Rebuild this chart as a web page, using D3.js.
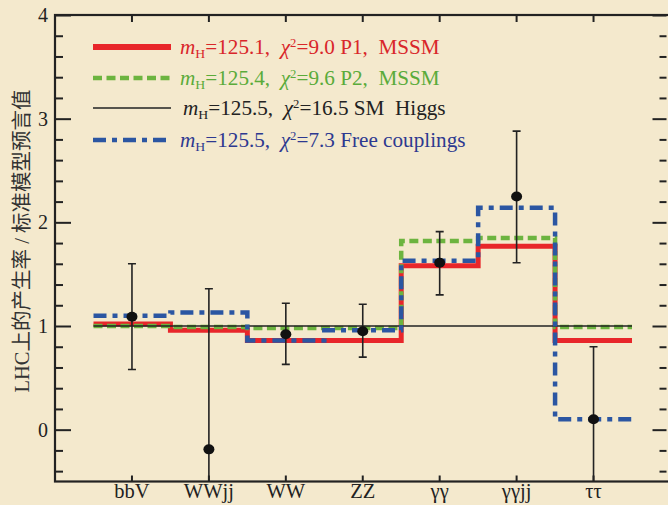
<!DOCTYPE html>
<html>
<head>
<meta charset="utf-8">
<script src="https://cdn.jsdelivr.net/npm/d3@7"></script>
<style>
  html, body { margin: 0; padding: 0; background: #f4e9cd; }
  svg { display: block; }
</style>
</head>
<body>
<div id="chart"></div>
<script>
// channels on the x axis
const channels = ['bbV', 'WWjj', 'WW', 'ZZ', 'γγ', 'γγjj', 'ττ'];

// model predictions per channel (ratio to SM)
const p1Mssm   = [1.02, 0.96, 0.86, 0.86, 1.58, 1.77, 0.86];
const p2Mssm   = [1.00, 0.99, 0.98, 0.98, 1.82, 1.85, 0.99];
const smHiggs  = [1, 1, 1, 1, 1, 1, 1];
const freeCoup = [1.10, 1.13, 0.86, 0.96, 1.63, 2.14, 0.10];

// measured points with error bars
const measured = [1.09, -0.19, 0.92, 0.95, 1.61, 2.25, 0.10];
const errLow   = [0.58, -0.60, 0.63, 0.70, 1.30, 1.61, -0.60];
const errHigh  = [1.60, 1.36, 1.22, 1.21, 1.91, 2.88, 0.80];

const yMajor = [0, 1, 2, 3, 4];
const yMinor = d3.range(-0.4, 4.0, 0.2).map(v => +v.toFixed(1)).filter(v => !yMajor.includes(v));

const width = 668, height = 505;
const plotL = 55, plotR = 666.5, plotT = 15, plotB = 481.5;

const svg = d3.select('#chart').append('svg')
  .attr('width', width)
  .attr('height', height)
  .style('font-family', '"Liberation Serif", "Times New Roman", serif');

svg.append('rect').attr('width', width).attr('height', height).attr('fill', '#f4e9cd');

const x = d3.scaleBand().domain(channels).range([93.5, 632]);
const y = d3.scaleLinear().domain([-0.5, 4]).range([plotB, plotT]);

svg.append('clipPath').attr('id', 'plotclip')
  .append('rect').attr('x', plotL).attr('y', plotT)
  .attr('width', plotR - plotL).attr('height', plotB - plotT);

// axes: ticks point inward
const leftMinor = svg.append('g').attr('transform', `translate(${plotL},0)`)
  .call(d3.axisLeft(y).tickValues(yMinor).tickSize(-8).tickFormat(''));
const leftMajor = svg.append('g').attr('transform', `translate(${plotL},0)`)
  .call(d3.axisLeft(y).tickValues(yMajor).tickSize(-16).tickPadding(7).tickFormat(d3.format('d')));
const rightMinor = svg.append('g').attr('transform', `translate(${plotR},0)`)
  .call(d3.axisRight(y).tickValues(yMinor).tickSize(-7).tickFormat(''));
const rightMajor = svg.append('g').attr('transform', `translate(${plotR},0)`)
  .call(d3.axisRight(y).tickValues(yMajor).tickSize(-14).tickFormat(''));
const bottomAxis = svg.append('g').attr('transform', `translate(0,${plotB})`)
  .call(d3.axisBottom(x).tickSize(-6).tickPadding(2));
const topAxis = svg.append('g').attr('transform', `translate(0,${plotT})`)
  .call(d3.axisTop(x).tickSize(-7).tickFormat(''));

[leftMinor, leftMajor, rightMinor, rightMajor, bottomAxis, topAxis].forEach(g => {
  g.select('.domain').remove();
  g.selectAll('line').attr('stroke', '#222').attr('stroke-width', 2);
  g.selectAll('text').attr('fill', '#222').style('font-size', '20px')
    .style('font-family', '"Liberation Serif", "Times New Roman", serif');
});
bottomAxis.selectAll('text').style('font-size', '20.5px');

// frame
svg.append('rect')
  .attr('x', plotL).attr('y', plotT)
  .attr('width', plotR - plotL + 4).attr('height', plotB - plotT)
  .attr('fill', 'none').attr('stroke', '#222').attr('stroke-width', 2.2);

// y label
svg.append('text')
  .attr('transform', 'translate(22,241) rotate(-90)')
  .attr('text-anchor', 'middle')
  .attr('dominant-baseline', 'central')
  .attr('fill', '#333')
  .style('font-size', '20.5px')
  .style('font-family', '"Liberation Serif", "Noto Sans CJK SC", serif')
  .text('LHC上的产生率 / 标准模型预言值');

// step lines
const plot = svg.append('g').attr('clip-path', 'url(#plotclip)');
const step = d3.line().curve(d3.curveStepAfter).x(d => d[0]).y(d => y(d[1]));
const stepPoints = vals => {
  const pts = channels.map((c, i) => [x(c), vals[i]]);
  pts.push([x(channels[channels.length - 1]) + x.bandwidth(), vals[vals.length - 1]]);
  return pts;
};

const series = [
  { vals: p1Mssm,   color: '#e8262a', width: 5,   dash: null,          text: '#d9262a', mh: '125.1', chi: '9.0 P1,  MSSM' },
  { vals: p2Mssm,   color: '#6cb43f', width: 4.5, dash: '9,4.5',       text: '#5aab3a', mh: '125.4', chi: '9.6 P2,  MSSM' },
  { vals: smHiggs,  color: '#222',    width: 1.3, dash: null,          text: '#222',    mh: '125.5', chi: '16.5 SM  Higgs' },
  { vals: freeCoup, color: '#2b56a2', width: 4.5, dash: '13,6,5,6',    text: '#2d3990', mh: '125.5', chi: '7.3 Free couplings' }
];

series.forEach(s => {
  plot.append('path')
    .attr('d', step(stepPoints(s.vals)))
    .attr('fill', 'none')
    .attr('stroke', s.color)
    .attr('stroke-width', s.width)
    .attr('stroke-dasharray', s.dash);
});

// measured points
channels.forEach((c, i) => {
  const cx = x(c) + x.bandwidth() / 2;
  plot.append('line')
    .attr('x1', cx).attr('x2', cx)
    .attr('y1', y(errLow[i])).attr('y2', y(errHigh[i]))
    .attr('stroke', '#222').attr('stroke-width', 1.6);
  [errLow[i], errHigh[i]].filter(v => v > -0.5).forEach(v => {
    plot.append('line')
      .attr('x1', cx - 4).attr('x2', cx + 4)
      .attr('y1', y(v)).attr('y2', y(v))
      .attr('stroke', '#222').attr('stroke-width', 1.6);
  });
  plot.append('ellipse')
    .attr('cx', cx).attr('cy', y(measured[i]))
    .attr('rx', 5.5).attr('ry', 5)
    .attr('fill', '#111');
});

// legend
const legRows = [47, 78, 108, 140];
series.forEach((s, i) => {
  const ly = legRows[i];
  svg.append('line')
    .attr('x1', 93).attr('x2', 171)
    .attr('y1', ly).attr('y2', ly)
    .attr('stroke', s.color)
    .attr('stroke-width', s.width + (i === 0 ? 1 : 0))
    .attr('stroke-dasharray', s.dash);
  const t = svg.append('text')
    .attr('transform', `translate(${i === 2 ? 183 : 180},${ly + 7}) scale(1.06,1)`)
    .attr('fill', s.text)
    .style('white-space', 'pre')
    .style('font-size', '20px');
  t.append('tspan').style('font-style', 'italic').text('m');
  t.append('tspan').attr('dy', 4).style('font-size', '13px').text('H');
  t.append('tspan').attr('dy', -4).text('=' + s.mh + ',  ');
  t.append('tspan').style('font-style', 'italic').text('χ');
  t.append('tspan').attr('dy', -7).style('font-size', '12px').text('2');
  t.append('tspan').attr('dy', 7).text('=' + s.chi);
});
</script>
</body>
</html>
